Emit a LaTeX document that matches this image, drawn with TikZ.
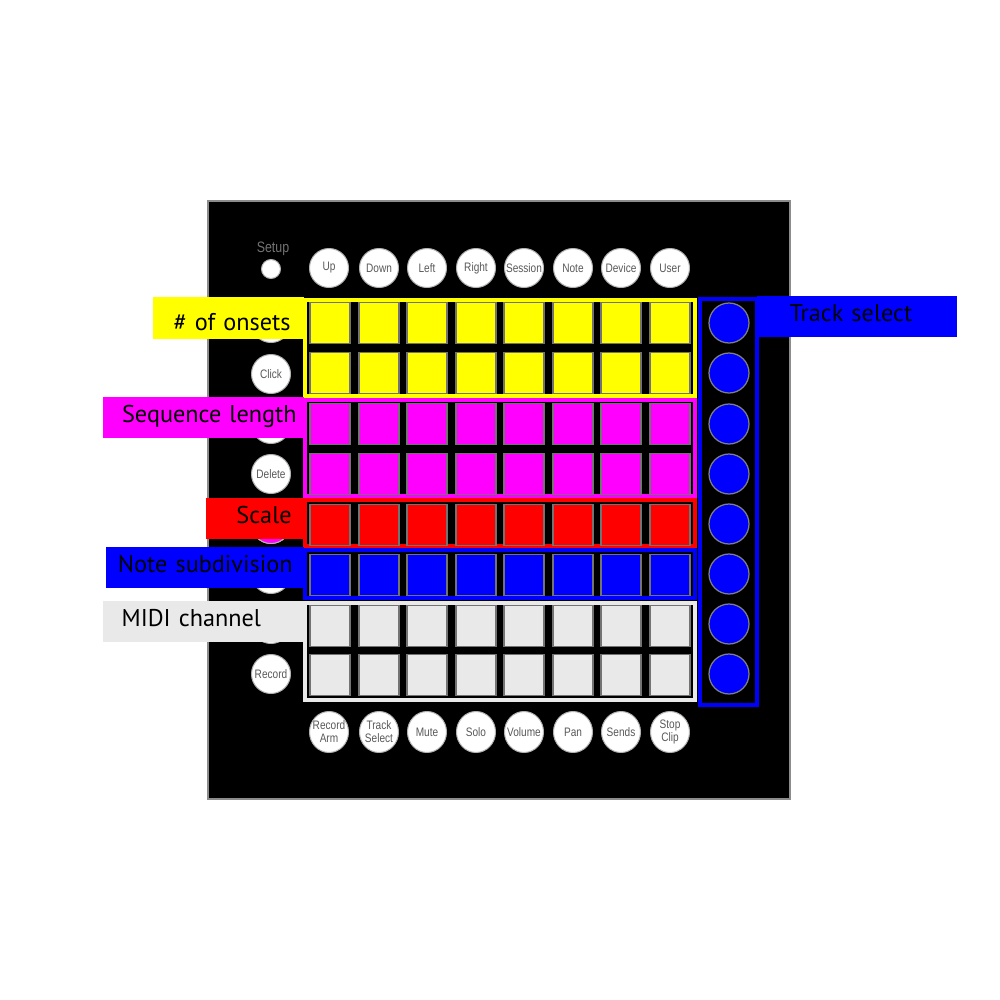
\documentclass[tikz,border=0pt]{standalone}
\usepackage{fontspec}
\setmainfont{PT Sans}
\newfontfamily\btnfont[FakeStretch=0.82]{Liberation Sans}
\usepackage{tikz}
\usetikzlibrary{shapes.geometric}
\definecolor{lpyellow}{HTML}{FFFF00}
\definecolor{lpmagenta}{HTML}{FF00FF}
\definecolor{lpred}{HTML}{FF0000}
\definecolor{lpblue}{HTML}{0000FF}
\definecolor{lpgray}{HTML}{E9E9E9}
\tikzset{
  lp panel/.style={fill=black, draw=black!45, line width=0.35mm},
  lp btntxt/.style={font=\btnfont\fontsize{7}{7.4}\selectfont, text=black!65, align=center,
    inner sep=0pt},
  lp btn/.style={draw=black!30, fill=white, circle, minimum size=7.8mm, inner sep=0pt,
    lp btntxt, line width=0.2mm},
  lp oval/.style={draw=black!30, fill=white, ellipse, minimum width=7.8mm,
    minimum height=8.2mm, inner sep=0pt, line width=0.2mm},
  lp pad/.style={draw=black!55, rectangle, minimum width=8mm, minimum height=8.2mm,
    inner sep=0pt, line width=0.3mm},
  lp frame/.style={line width=0.8mm},
  lp trk/.style={draw=black!50, fill=lpblue, circle, minimum size=8mm, inner sep=0pt,
    line width=0.25mm},
  lp tag/.style={rectangle, inner ysep=0pt, minimum height=8.2mm, anchor=north east,
    font=\fontsize{13.8}{14}\selectfont, text=black, text height=0.72em, text depth=0.2em},
}

\begin{document}
\begin{tikzpicture}[x=0.2mm, y=-0.2mm]
 \useasboundingbox (0,0) rectangle (1000,1000);
 \fill[white] (0,0) rectangle (1000,1000);
 \draw[lp panel] (208,201) rectangle (790,799);
 % top row
 \node[lp btn, minimum size=3.8mm] (setup) at (271,269) {};
 \node[lp btntxt, font=\btnfont\fontsize{8.6}{9}\selectfont, text=black!55]
   (setuptxt) at (273,249) {Setup};
 \foreach \x/\t [count=\i] in {329/Up, 379/Down, 427/Left, 476/Right, 524/Session,
   573/Note, 621/Device, 670/User}
   \node[lp btn] (top-\i) at (\x,268) {\t};
 % left column
 \foreach \y/\t [count=\i] in {323/, 374/Click, 424/, 474/Delete, 524/, 574/, 624/, 674/Record}
   \node[lp btn] (side-\i) at (271,\y) {\t};
 \node[lp btn, fill=lpmagenta] at (side-5) {};
 % coloured groups
 \draw[lp frame, lpyellow]  (305,300) rectangle (695,396);
 \draw[lp frame, lpmagenta] (305,400) rectangle (695,496);
 \draw[lp frame, lpred]     (305,500) rectangle (695,546);
 \draw[lp frame, lpblue]    (305,550) rectangle (695,598);
 \draw[lp frame, lpgray]    (305,603) rectangle (695,700);
 \foreach \y/\c [count=\i] in {323/lpyellow, 373/lpyellow, 424/lpmagenta, 474/lpmagenta,
   525/lpred, 575/lpblue, 626/lpgray, 675/lpgray}
   \foreach \x [count=\j] in {330,379,427,476,524,573,621,670}
     \node[lp pad, fill=\c] (pad-\i-\j) at (\x,\y) {};
 % track select column
 \draw[lp frame, lpblue] (700,299) rectangle (757,705);
 \foreach \y [count=\i] in {323,373,424,474,524,574,624,674}
   \node[lp trk] (trk-\i) at (729,\y) {};
 % bottom row
 \foreach \x/\t [count=\i] in {329/Record\\Arm, 379/Track\\Select, 427/Mute, 476/Solo,
   524/Volume, 573/Pan, 621/Sends, 670/Stop\\Clip}
   \node[lp oval, label={[lp btntxt]center:\t}] (bot-\i) at (\x,732) {};
 % labels
 \node[lp tag, fill=lpyellow, minimum height=8.4mm, inner xsep=2.6mm, text width=25mm,
   text height=16pt, align=right] (onsets) at (304,297) {\mbox{\# of onsets}};
 \node[lp tag, fill=lpmagenta, inner xsep=1.4mm, text width=37.4mm, align=right]
   (seqlen) at (304,397) {\mbox{Sequence length}};
 \node[lp tag, fill=lpred, inner xsep=2.4mm, text width=14.8mm, align=right]
   (scale) at (304,498) {Scale};
 \node[lp tag, fill=lpblue, inner xsep=2.2mm, text width=35.2mm, align=right]
   (subdiv) at (304,547) {\mbox{Note subdivision}};
 \node[lp tag, fill=lpgray, inner xsep=3.8mm, text width=32.6mm, align=left]
   (midi) at (304,601) {\mbox{MIDI channel}};
 \node[lp tag, fill=lpblue, inner xsep=6.6mm, text width=26.8mm, align=left]
   (trksel) at (957,296) {\mbox{Track select}};
\end{tikzpicture}
\end{document}
